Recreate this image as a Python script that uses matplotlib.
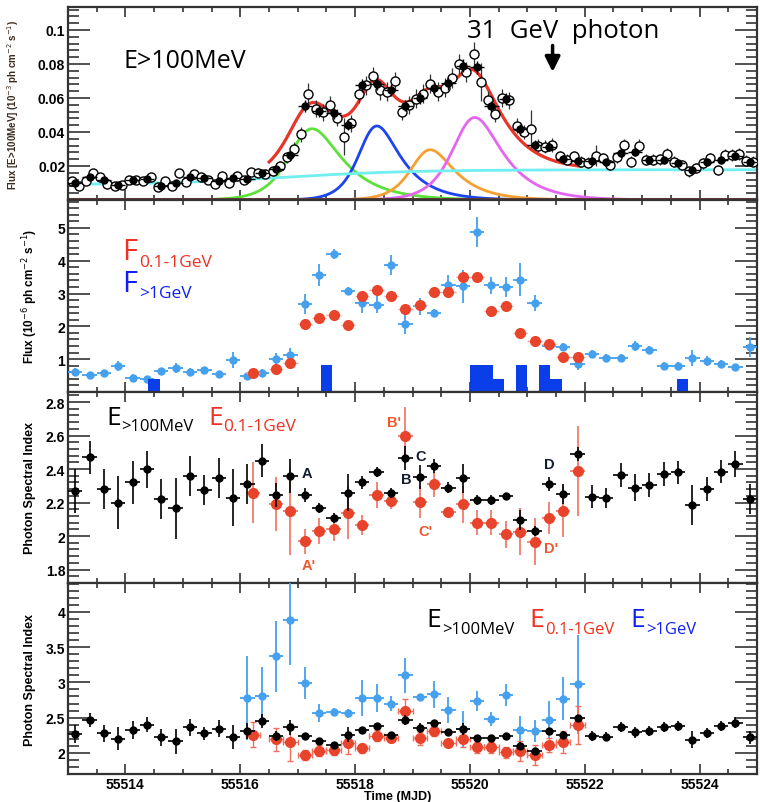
import numpy as np
import matplotlib
matplotlib.use("Agg")
import matplotlib.pyplot as plt
from matplotlib.ticker import MultipleLocator, FuncFormatter

# ---------------- data ----------------
t6h = np.arange(55513.125, 55525.0, 0.25)      # 48 bin centres (6 h)
t3h = np.arange(55513.0625, 55525.0, 0.125)    # 96 bin centres (3 h)

flux_6h = [0.0100, 0.0136, 0.0119, 0.0086, 0.0119, 0.0124, 0.0082, 0.0100, 0.0133, 0.0127,
           0.0113, 0.0129, 0.0126, 0.0158, 0.0180, 0.0263, 0.0555, 0.0522, 0.0511, 0.0443,
           0.0675, 0.0684, 0.0645, 0.0555, 0.0598, 0.0660, 0.0687, 0.0790, 0.0780, 0.0551,
           0.0596, 0.0415, 0.0325, 0.0314, 0.0241, 0.0231, 0.0230, 0.0222, 0.0275, 0.0285,
           0.0236, 0.0236, 0.0216, 0.0177, 0.0226, 0.0236, 0.0259, 0.0226]
flux_6h_err = [0.0018, 0.0018, 0.0017, 0.0016, 0.0017, 0.0017, 0.0016, 0.0017, 0.0018, 0.0018,
               0.0017, 0.0018, 0.0018, 0.0019, 0.0020, 0.0025, 0.0035, 0.0032, 0.0032, 0.0030,
               0.0038, 0.0038, 0.0036, 0.0034, 0.0035, 0.0036, 0.0038, 0.0040, 0.0040, 0.0034,
               0.0035, 0.0030, 0.0027, 0.0026, 0.0023, 0.0022, 0.0022, 0.0022, 0.0024, 0.0024,
               0.0022, 0.0022, 0.0021, 0.0020, 0.0021, 0.0022, 0.0023, 0.0022]
flux_3h = [0.0110, 0.0080, 0.0113, 0.0158, 0.0133, 0.0094, 0.0080, 0.0086, 0.0119, 0.0119,
           0.0110, 0.0133, 0.0074, 0.0113, 0.0080, 0.0158, 0.0105, 0.0152, 0.0133, 0.0119,
           0.0094, 0.0139, 0.0100, 0.0139, 0.0119, 0.0165, 0.0160, 0.0155, 0.0170, 0.0200,
           0.0250, 0.0300, 0.0386, 0.0626, 0.0538, 0.0515, 0.0560, 0.0484, 0.0372, 0.0450,
           0.0626, 0.0674, 0.0729, 0.0645, 0.0636, 0.0698, 0.0519, 0.0557, 0.0596, 0.0626,
           0.0684, 0.0636, 0.0660, 0.0718, 0.0800, 0.0753, 0.0860, 0.0694, 0.0587, 0.0506,
           0.0600, 0.0587, 0.0437, 0.0402, 0.0417, 0.0320, 0.0314, 0.0323, 0.0256, 0.0236,
           0.0256, 0.0226, 0.0220, 0.0261, 0.0246, 0.0206, 0.0250, 0.0323, 0.0226, 0.0320,
           0.0236, 0.0236, 0.0240, 0.0269, 0.0226, 0.0206, 0.0168, 0.0187, 0.0216, 0.0246,
           0.0177, 0.0265, 0.0265, 0.0269, 0.0230, 0.0226]
flux_3h_err = [0.0025, 0.0023, 0.0024, 0.0026, 0.0025, 0.0023, 0.0023, 0.0023, 0.0025, 0.0025,
               0.0024, 0.0025, 0.0022, 0.0024, 0.0023, 0.0026, 0.0024, 0.0026, 0.0025, 0.0025,
               0.0023, 0.0025, 0.0024, 0.0025, 0.0025, 0.0026, 0.0026, 0.0026, 0.0027, 0.0030,
               0.0035, 0.0040, 0.0045, 0.0060, 0.0050, 0.0050, 0.0052, 0.0050, 0.0110, 0.0050,
               0.0055, 0.0055, 0.0055, 0.0055, 0.0055, 0.0055, 0.0050, 0.0052, 0.0055, 0.0055,
               0.0055, 0.0055, 0.0055, 0.0058, 0.0060, 0.0058, 0.0070, 0.0110, 0.0052, 0.0050,
               0.0052, 0.0050, 0.0045, 0.0042, 0.0110, 0.0040, 0.0038, 0.0040, 0.0035, 0.0033,
               0.0035, 0.0032, 0.0032, 0.0060, 0.0033, 0.0031, 0.0033, 0.0036, 0.0032, 0.0036,
               0.0032, 0.0032, 0.0033, 0.0034, 0.0032, 0.0031, 0.0030, 0.0030, 0.0031, 0.0033,
               0.0030, 0.0034, 0.0034, 0.0034, 0.0032, 0.0032]

# flare-component fit parameters (peak time, amplitude, rise, decay)
comp_names = ["green", "blue", "orange", "magenta"]
comp_t0 = [55517.13, 55518.28, 55519.22, 55519.99]
comp_F0 = [0.0400, 0.0414, 0.0285, 0.0470]
comp_Tr = [0.30, 0.235, 0.26, 0.30]
comp_Td = [0.56, 0.45, 0.45, 0.50]
# slowly varying baseline (cyan)
base_c, base_a, base_tm, base_w = 0.0090, 0.0088, 55516.8, 1.1
fit_range = (55516.5, 55521.92)

# panel 2: fluxes
flux_gt1 = [0.60, 0.52, 0.57, 0.78, 0.44, 0.39, 0.64, 0.73, 0.62, 0.67,
            0.55, 0.98, 0.49, 0.59, 1.01, 1.13, 2.68, 3.56, 4.21, 3.07,
            2.71, 2.66, 3.88, 2.08, 2.61, 2.40, 3.27, 3.22, 4.87, 3.25,
            3.19, 3.42, 2.71, 1.39, 1.36, 0.86, 1.16, 1.05, 1.05, 1.39,
            1.29, 0.80, 0.80, 1.03, 0.95, 0.86, 0.76, 1.37]
flux_gt1_err = [0.12, 0.08, 0.10, 0.15, 0.10, 0.08, 0.10, 0.15, 0.10, 0.10,
                0.08, 0.25, 0.08, 0.10, 0.18, 0.22, 0.30, 0.33, 0.15, 0.12,
                0.30, 0.25, 0.30, 0.30, 0.25, 0.12, 0.30, 0.50, 0.45, 0.25,
                0.30, 0.50, 0.25, 0.12, 0.12, 0.18, 0.12, 0.10, 0.10, 0.15,
                0.12, 0.10, 0.10, 0.25, 0.15, 0.10, 0.10, 0.30]
t_red = np.concatenate([[55516.22], np.arange(55516.625, 55521.9, 0.25)])  # 23 bins
flux_low = [0.59, 0.69, 0.88, 2.08, 2.25, 2.35, 2.03, 2.92, 3.12, 2.92,
            2.53, 2.66, 3.04, 3.04, 3.50, 3.50, 2.48, 2.61, 1.79, 1.54,
            1.46, 1.06, 1.08]
flux_low_err = [0.05, 0.05, 0.06, 0.08, 0.08, 0.08, 0.08, 0.09, 0.09, 0.09,
                0.08, 0.08, 0.09, 0.09, 0.10, 0.10, 0.08, 0.08, 0.07, 0.06,
                0.06, 0.05, 0.05]
# high-energy photon histogram (bin start, counts)
hep_start = [55514.4, 55517.4, 55520.0, 55520.2, 55520.4, 55520.8, 55521.2, 55521.4, 55523.6]
hep_count = [1, 2, 2, 2, 1, 2, 2, 1, 1]

# panels 3 & 4: photon indices
idx_all = [2.27, 2.47, 2.28, 2.20, 2.32, 2.40, 2.22, 2.165, 2.36, 2.275,
           2.345, 2.23, 2.31, 2.45, 2.245, 2.36, 2.245, 2.17, 2.11, 2.26,
           2.32, 2.38, 2.26, 2.467, 2.354, 2.418, 2.29, 2.345, 2.215, 2.215,
           2.24, 2.095, 2.03, 2.31, 2.25, 2.49, 2.235, 2.23, 2.365, 2.29,
           2.305, 2.37, 2.38, 2.185, 2.28, 2.385, 2.43, 2.22]
idx_all_err = [0.13, 0.10, 0.12, 0.16, 0.13, 0.11, 0.12, 0.18, 0.12, 0.09,
               0.12, 0.17, 0.12, 0.10, 0.07, 0.10, 0.04, 0.03, 0.03, 0.11,
               0.04, 0.03, 0.03, 0.07, 0.07, 0.04, 0.03, 0.085, 0.03, 0.03,
               0.02, 0.06, 0.03, 0.04, 0.06, 0.04, 0.07, 0.06, 0.07, 0.08,
               0.07, 0.07, 0.07, 0.12, 0.07, 0.07, 0.08, 0.09]
idx_low = [2.26, 2.19, 2.15, 1.97, 2.03, 2.04, 2.14, 2.065, 2.245, 2.21,
           2.60, 2.205, 2.31, 2.145, 2.19, 2.08, 2.08, 2.01, 2.025, 1.965,
           2.11, 2.15, 2.39]
idx_low_err = [0.18, 0.16, 0.26, 0.075, 0.075, 0.07, 0.16, 0.06, 0.08, 0.05,
               0.17, 0.095, 0.075, 0.03, 0.11, 0.075, 0.075, 0.08, 0.14, 0.14,
               0.095, 0.155, 0.27]
t_hi = np.arange(55516.125, 55521.9, 0.25)  # 24 bins
idx_hi = [2.78, 2.80, 3.37, 3.88, 2.99, 2.57, 2.58, 2.56, 2.78, 2.78,
          2.70, 3.10, 2.79, 2.83, 2.61, 2.34, 2.74, 2.48, 2.82, 2.33,
          2.31, 2.47, 2.77, 2.97]
idx_hi_err = [0.60, 0.42, 0.50, 0.64, 0.23, 0.13, 0.06, 0.06, 0.25, 0.20,
              0.10, 0.25, 0.04, 0.19, 0.18, 0.26, 0.14, 0.10, 0.16, 0.20,
              0.16, 0.27, 0.30, 0.70]

labels_idx = ["A", "A'", "B'", "C", "B", "C'", "D", "D'"]
labels_t = [55517.16, 55517.2, 55518.67, 55519.15, 55518.89, 55519.22, 55521.39, 55521.41]
labels_v = [2.376, 1.827, 2.68, 2.48, 2.34, 2.03, 2.43, 1.93]
labels_col = ["k", "r", "r", "k", "k", "r", "k", "r"]

# ---------------- style ----------------
W, H = 760, 803
fig = plt.figure(figsize=(W / 100, H / 100), dpi=100)
TICKFONT = dict(family=["Liberation Sans", "DejaVu Sans"], weight="bold", size=10)
BIGFONT = ["Open Sans", "DejaVu Sans"]
RED = "#e8442c"
LBLUE = "#45a0ee"
CRED = "#f03020"
CBLUE = "#1020f0"


def axes_px(top, bottom):
    return fig.add_axes([68 / W, 1 - bottom / H, (757 - 68) / W, (bottom - top) / H])


def style(ax, ymaj, ymin, xlabels=False, hide=()):
    ax.set_xlim(55513, 55525)
    ax.xaxis.set_major_locator(MultipleLocator(2))
    ax.xaxis.set_minor_locator(MultipleLocator(0.5))
    ax.yaxis.set_major_locator(MultipleLocator(ymaj))
    ax.yaxis.set_minor_locator(MultipleLocator(ymin))
    ax.tick_params(which="both", direction="in", top=True, right=True, color="#333333", width=1.2)
    ax.tick_params(axis="x", which="major", length=7, pad=2)
    ax.tick_params(axis="x", which="minor", length=3.5)
    ax.tick_params(axis="y", which="major", length=16, pad=2)
    ax.tick_params(axis="y", which="minor", length=8)
    for s in ax.spines.values():
        s.set_linewidth(1.6)
        s.set_color("#333333")

    def yfmt(v, p):
        if any(abs(v - h) < 1e-9 for h in hide):
            return ""
        return "%g" % round(v, 6)
    ax.yaxis.set_major_formatter(FuncFormatter(yfmt))
    if xlabels:
        ax.xaxis.set_major_formatter(FuncFormatter(lambda v, p: "%d" % round(v)))
    else:
        ax.set_xticklabels([])
    for lab in ax.get_xticklabels() + ax.get_yticklabels():
        lab.set_fontproperties(matplotlib.font_manager.FontProperties(**TICKFONT))


def ftext(x, y, s, **kw):
    fig.text(x / W, 1 - y / H, s, va="baseline", ha="left", **kw)


# ---------------- panel 1 ----------------
ax1 = axes_px(8, 201)
tt = np.linspace(55513, 55525, 1200)
base = base_c + base_a / (1 + np.exp(-(tt - base_tm) / base_w))
cols = {"green": "#5ce03a", "blue": "#1d45ee", "orange": "#f5a032", "magenta": "#e466f0"}
total = base.copy()
for name, t0, F0, Tr, Td in zip(comp_names, comp_t0, comp_F0, comp_Tr, comp_Td):
    comp = 2 * F0 / (np.exp((t0 - tt) / Tr) + np.exp((tt - t0) / Td))
    total += comp
    ax1.plot(tt, comp, color=cols[name], lw=2, zorder=2)
ax1.plot(tt, base, color="#70eef0", lw=2, zorder=2)
ax1.axhline(0.0003, color="#6a3b35", lw=2.2, zorder=2)
m = (tt >= fit_range[0]) & (tt <= fit_range[1])
ax1.plot(tt[m], total[m], color="#e8352a", lw=2.3, zorder=3)
ax1.errorbar(t3h, flux_3h, xerr=0.0625, yerr=flux_3h_err, fmt="o", ms=6.5, mfc="white",
             mec="black", mew=1.0, ecolor="#333333", elinewidth=0.9, capsize=0, zorder=4)
ax1.errorbar(t6h, flux_6h, xerr=0.125, yerr=flux_6h_err, fmt="o", ms=5, mfc="black",
             mec="black", ecolor="black", elinewidth=1.0, capsize=0, zorder=5)
ax1.set_ylim(0, 0.1135)
style(ax1, 0.02, 0.004, hide=(0,))
ax1.annotate("", xy=(55521.44, 0.0737), xytext=(55521.44, 0.0925),
             arrowprops=dict(arrowstyle="-|>,head_length=0.9,head_width=0.45", color="black", lw=2.5))
ftext(123, 68, "E>100MeV", fontsize=18, family=BIGFONT)
ftext(467, 38, "31  GeV  photon", fontsize=18.5, family=BIGFONT)
fig.text(13 / W, 1 - 105 / H, "Flux [E>100MeV] (10$^{-3}$ ph cm$^{-2}$ s$^{-1}$)", rotation=90,
         ha="center", va="center", fontsize=7, fontweight="bold", family=["Liberation Sans", "DejaVu Sans"],
         color="#3a2a20")

# ---------------- panel 2 ----------------
ax2 = axes_px(201, 393)
ax2.errorbar(t6h, flux_gt1, xerr=0.125, yerr=flux_gt1_err, fmt="o", ms=5, color=LBLUE,
             ecolor=LBLUE, elinewidth=1.3, capsize=0, zorder=4)
ax2.errorbar(t_red, flux_low, xerr=0.125, yerr=flux_low_err, fmt="o", ms=7, color=RED,
             ecolor="#f4a090", elinewidth=1.0, capsize=0, zorder=5)
ax2.bar(hep_start, np.array(hep_count) * 0.41, width=0.2, align="edge", color="#0a3ee8",
        zorder=6)
ax2.set_ylim(0, 5.85)
style(ax2, 1, 0.2, hide=(0,))
ftext(122, 260, "F", fontsize=21, color=CRED, family=BIGFONT)
ftext(139, 267, "0.1-1GeV", fontsize=12.5, color=CRED, family=BIGFONT)
ftext(122, 292, "F", fontsize=21, color=CBLUE, family=BIGFONT)
ftext(139, 298, ">1GeV", fontsize=12.5, color=CBLUE, family=BIGFONT)
fig.text(30 / W, 1 - 296 / H, "Flux (10$^{-6}$ ph cm$^{-2}$ s$^{-1}$)", rotation=90, ha="center",
         va="center", fontsize=8.5, fontweight="bold", family=["Liberation Sans", "DejaVu Sans"])

# ---------------- panel 3 ----------------
ax3 = axes_px(393, 584)
ax3.errorbar(t_red, idx_low, xerr=0.125, yerr=idx_low_err, fmt="o", ms=7, color=RED,
             ecolor="#f07060", elinewidth=1.2, capsize=0, zorder=4)
ax3.errorbar(t6h, idx_all, xerr=0.125, yerr=idx_all_err, fmt="o", ms=5, color="black",
             ecolor="black", elinewidth=1.2, capsize=0, zorder=5)
ax3.set_ylim(1.72, 2.86)
style(ax3, 0.2, 0.04)
for s, t, v, c in zip(labels_idx, labels_t, labels_v, labels_col):
    ax3.text(t, v, s, color=("#141a30" if c == "k" else "#ee5a30"), fontsize=10.5, fontweight="bold",
             family=["Liberation Sans", "DejaVu Sans"], ha="center", va="center", zorder=6)
ftext(106, 425, "E", fontsize=19, color="black", family=BIGFONT)
ftext(121, 431, ">100MeV", fontsize=12, color="black", family=BIGFONT)
ftext(208, 425, "E", fontsize=19, color=CRED, family=BIGFONT)
ftext(223, 431, "0.1-1GeV", fontsize=12.5, color=CRED, family=BIGFONT)
fig.text(30 / W, 1 - 488 / H, "Photon Spectral Index", rotation=90, ha="center", va="center",
         fontsize=9, fontweight="bold", family=["Liberation Sans", "DejaVu Sans"])

# ---------------- panel 4 ----------------
ax4 = axes_px(584, 775)
ax4.errorbar(t_hi, idx_hi, xerr=0.125, yerr=idx_hi_err, fmt="o", ms=5, color=LBLUE,
             ecolor=LBLUE, elinewidth=1.3, capsize=0, zorder=3)
ax4.errorbar(t_red, idx_low, xerr=0.125, yerr=idx_low_err, fmt="o", ms=7, color=RED,
             ecolor="#f07060", elinewidth=1.0, capsize=2, zorder=4)
ax4.errorbar(t6h, idx_all, xerr=0.125, yerr=idx_all_err, fmt="o", ms=5, color="black",
             ecolor="black", elinewidth=1.2, capsize=0, zorder=5)
ax4.set_ylim(1.7, 4.41)
style(ax4, 0.5, 0.1, xlabels=True)
ftext(426, 627, "E", fontsize=19, color="black", family=BIGFONT)
ftext(442, 634, ">100MeV", fontsize=12, color="black", family=BIGFONT)
ftext(529, 627, "E", fontsize=19, color=CRED, family=BIGFONT)
ftext(545, 634, "0.1-1GeV", fontsize=12, color=CRED, family=BIGFONT)
ftext(630, 627, "E", fontsize=19, color=CBLUE, family=BIGFONT)
ftext(646, 634, ">1GeV", fontsize=12, color=CBLUE, family=BIGFONT)
fig.text(30 / W, 1 - 680 / H, "Photon Spectral Index", rotation=90, ha="center", va="center",
         fontsize=9, fontweight="bold", family=["Liberation Sans", "DejaVu Sans"])
fig.text(398 / W, 1 - 797 / H, "Time (MJD)", ha="center", va="center", fontsize=9,
         fontweight="bold", family=["Liberation Sans", "DejaVu Sans"])

fig.savefig("out.png", dpi=100)
